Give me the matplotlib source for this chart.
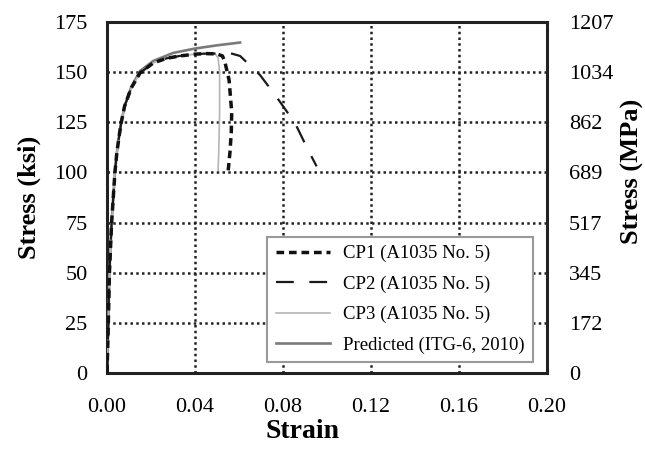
import matplotlib
matplotlib.use("Agg")
import matplotlib.pyplot as plt

plt.rcParams['font.family'] = ['Liberation Serif', 'DejaVu Serif']

# shared elastic / early hardening branch (strain, ksi)
base_strain = [0.0, 0.0006, 0.0011, 0.0021, 0.0036, 0.0045, 0.0055, 0.0065,
               0.008, 0.011, 0.015, 0.021, 0.027, 0.033, 0.040, 0.045]
base_stress = [0, 25, 50, 75, 100, 110, 118, 125,
               133, 142, 149.5, 154.5, 156.8, 158.0, 158.9, 159.2]

cp1_strain = [0.050, 0.0525, 0.0536, 0.0555, 0.0567, 0.0565, 0.0559, 0.0551]
cp1_stress = [159.0, 158.0, 155.0, 146.0, 130.0, 120.0, 110.0, 101.0]

cp2_strain = [0.050, 0.056, 0.0605, 0.0695, 0.077, 0.0855, 0.0915, 0.0953]
cp2_stress = [159.2, 159.4, 158.0, 148.6, 137.7, 124.5, 111.0, 103.0]

cp3_strain = [0.049, 0.0505, 0.0512, 0.0512, 0.0508, 0.0505]
cp3_stress = [159.2, 157.0, 150.0, 130.0, 110.0, 101.0]

pred_strain = [0.0, 0.0006, 0.0011, 0.0021, 0.0036, 0.0045, 0.0055, 0.0065,
               0.008, 0.011, 0.015, 0.021, 0.030, 0.040, 0.050, 0.0605]
pred_stress = [0, 25, 50, 75, 100, 110, 118, 125,
               133, 142.5, 150.5, 155.5, 159.5, 161.7, 163.3, 164.7]

ksi_ticks = [0, 25, 50, 75, 100, 125, 150, 175]
mpa_labels = ['0', '172', '345', '517', '689', '862', '1034', '1207']
strain_ticks = [0.00, 0.04, 0.08, 0.12, 0.16, 0.20]

fig = plt.figure(figsize=(6.45, 4.49), dpi=100)
ax = fig.add_axes([0.1659, 0.1693, 0.682, 0.782])

ax.plot(pred_strain, pred_stress, color='#7a7a7a', lw=1.9,
        label='Predicted (ITG-6, 2010)', zorder=3)
ax.plot(base_strain + cp3_strain, base_stress + cp3_stress, color='#b5b5b5',
        lw=1.2, label='CP3 (A1035 No. 5)', zorder=4)
ax.plot(base_strain + cp2_strain, base_stress + cp2_stress, color='#1a1a1a',
        lw=1.6, dashes=(8, 7), label='CP2 (A1035 No. 5)', zorder=5)
ax.plot(base_strain + cp1_strain, base_stress + cp1_stress, color='#111111',
        lw=2.5, dashes=(2.2, 1.4), label='CP1 (A1035 No. 5)', zorder=6)

ax.set_xlim(0, 0.2)
ax.set_ylim(0, 175)
ax.set_xticks(strain_ticks)
ax.set_xticklabels([f'{v:.2f}' for v in strain_ticks])
ax.set_yticks(ksi_ticks)
ax.grid(True, color='#222222', linestyle=(0, (1, 1.3)), lw=1.8)
ax.tick_params(length=0, labelsize=16, pad=14)
ax.tick_params(axis='x', pad=18)
for s in ax.spines.values():
    s.set_linewidth(2.2)
    s.set_color('#222222')

ax.set_xlabel('Strain', fontsize=20, fontweight='bold')
ax.xaxis.set_label_coords(0.445, -0.13)
ax.set_ylabel('Stress (ksi)', fontsize=19, fontweight='bold')
ax.yaxis.set_label_coords(-0.15, 0.5)

ax2 = ax.twinx()
ax2.set_ylim(0, 175)
ax2.set_yticks(ksi_ticks)
ax2.set_yticklabels(mpa_labels)
ax2.tick_params(length=0, labelsize=16, pad=16)
ax2.set_ylabel('Stress (MPa)', fontsize=19, fontweight='bold')
ax2.yaxis.set_label_coords(1.168, 0.575)
for s in ax2.spines.values():
    s.set_visible(False)

handles, labels = ax.get_legend_handles_labels()
order = [3, 2, 1, 0]
leg = ax.legend([handles[i] for i in order], [labels[i] for i in order],
                loc='lower right', bbox_to_anchor=(0.99, 0.004),
                fontsize=13.5, fancybox=False, framealpha=1,
                edgecolor='#999999', handlelength=2.9, labelspacing=0.7,
                borderpad=0.45, handletextpad=0.7)
leg.get_frame().set_linewidth(1.5)

fig.savefig('out.png', dpi=100)
